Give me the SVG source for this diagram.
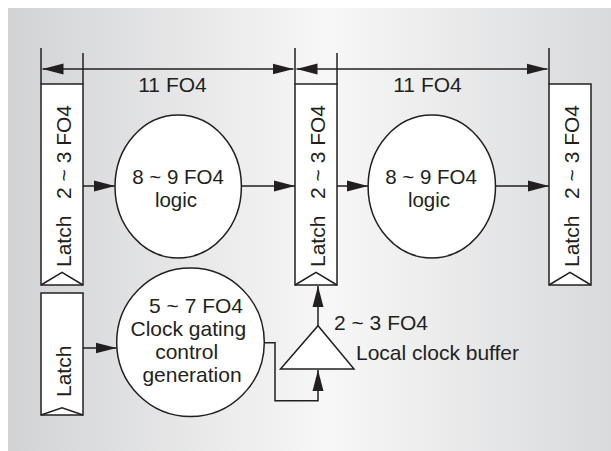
<svg xmlns="http://www.w3.org/2000/svg" width="611" height="451" viewBox="0 0 611 451">
<defs>
<linearGradient id="bg" x1="8" y1="0" x2="611" y2="0" gradientUnits="userSpaceOnUse">
<stop offset="0" stop-color="#d2d3d5"/>
<stop offset="0.53" stop-color="#f7f7f7"/>
<stop offset="1" stop-color="#d9dadc"/>
</linearGradient>
<marker id="ah" markerUnits="userSpaceOnUse" markerWidth="22" markerHeight="12" refX="21" refY="5.5" orient="auto-start-reverse" viewBox="0 0 22 11">
<path d="M0,0 L21,5.5 L0,11 z" fill="#231f20"/>
</marker>
</defs>
<style>
.ln{fill:none;stroke:#231f20;stroke-width:1.5}
.box{fill:#fff;stroke:#231f20;stroke-width:1.5}
.t{font-family:"Liberation Sans",Arial,sans-serif;font-size:21px;fill:#231f20}
.s{font-size:20.5px}
.c{text-anchor:middle}
.e{text-anchor:end}
</style>
<rect x="8" y="8" width="603" height="443" fill="url(#bg)"/>

<g id="connectors">
<line class="ln" x1="41" y1="48" x2="41" y2="84"/>
<line class="ln" x1="83" y1="53" x2="83" y2="84"/>
<line class="ln" x1="295" y1="48" x2="295" y2="84"/>
<line class="ln" x1="337" y1="53" x2="337" y2="84"/>
<line class="ln" x1="549" y1="48" x2="549" y2="84"/>
<line class="ln" x1="42.5" y1="69" x2="293.5" y2="69" marker-start="url(#ah)" marker-end="url(#ah)"/>
<line class="ln" x1="296.5" y1="69" x2="547.5" y2="69" marker-start="url(#ah)" marker-end="url(#ah)"/>
<line class="ln" x1="83" y1="186" x2="115" y2="186" marker-end="url(#ah)"/>
<line class="ln" x1="241.5" y1="186" x2="295" y2="186" marker-end="url(#ah)"/>
<line class="ln" x1="337" y1="186" x2="368" y2="186" marker-end="url(#ah)"/>
<line class="ln" x1="495.5" y1="186" x2="549" y2="186" marker-end="url(#ah)"/>
<line class="ln" x1="83" y1="348" x2="116.5" y2="348" marker-end="url(#ah)"/>
<polyline class="ln" points="264.3,342.7 275,342.7 275,400.7 318,400.7 318,370" marker-end="url(#ah)"/>
<line class="ln" x1="318" y1="325.7" x2="318" y2="286" marker-end="url(#ah)"/>
</g>

<g id="dim-label-1"><text class="t c" x="172.5" y="92">11 FO4</text></g>
<g id="dim-label-2"><text class="t c" x="427.5" y="92">11 FO4</text></g>

<g id="latch-1">
<rect class="box" x="41" y="84" width="42" height="201"/>
<polyline class="ln" points="41,285 62,272.3 83,285"/>
<text class="t" transform="translate(71,267) rotate(-90)">Latch</text>
<text class="t e" transform="translate(71,105) rotate(-90)">2 ~ 3 FO4</text>
</g>

<g id="latch-2">
<rect class="box" x="295" y="84" width="42" height="201"/>
<polyline class="ln" points="295,285 316,272.3 337,285"/>
<text class="t" transform="translate(325,267) rotate(-90)">Latch</text>
<text class="t e" transform="translate(325,105) rotate(-90)">2 ~ 3 FO4</text>
</g>

<g id="latch-3">
<rect class="box" x="549" y="84" width="42" height="201"/>
<polyline class="ln" points="549,285 570,272.3 591,285"/>
<text class="t" transform="translate(579,267) rotate(-90)">Latch</text>
<text class="t e" transform="translate(579,105) rotate(-90)">2 ~ 3 FO4</text>
</g>

<g id="latch-4">
<rect class="box" x="41" y="293" width="42" height="122"/>
<polyline class="ln" points="41,415 62,407.7 83,415"/>
<text class="t" transform="translate(71,397) rotate(-90)">Latch</text>
</g>

<g id="logic-1">
<ellipse class="box" cx="178.2" cy="186.5" rx="63.2" ry="71.5"/>
<text class="t s c" x="178" y="184">8 ~ 9 FO4</text>
<text class="t s c" x="176" y="207">logic</text>
</g>

<g id="logic-2">
<ellipse class="box" cx="431.8" cy="186.5" rx="63.7" ry="71.5"/>
<text class="t s c" x="431" y="184">8 ~ 9 FO4</text>
<text class="t s c" x="429" y="207">logic</text>
</g>

<g id="clock-gating">
<ellipse class="box" cx="190.5" cy="342.3" rx="73.8" ry="74.3"/>
<text class="t c" x="196" y="313">5 ~ 7 FO4</text>
<text class="t c" x="188.3" y="335.5">Clock gating</text>
<text class="t c" x="186.7" y="359">control</text>
<text class="t c" x="192" y="381.5">generation</text>
</g>

<g id="local-clock-buffer">
<polygon class="box" points="280.5,369 354,369 318,325.7"/>
<text class="t" x="334" y="330">2 ~ 3 FO4</text>
<text class="t" x="356" y="360">Local clock buffer</text>
</g>
</svg>
